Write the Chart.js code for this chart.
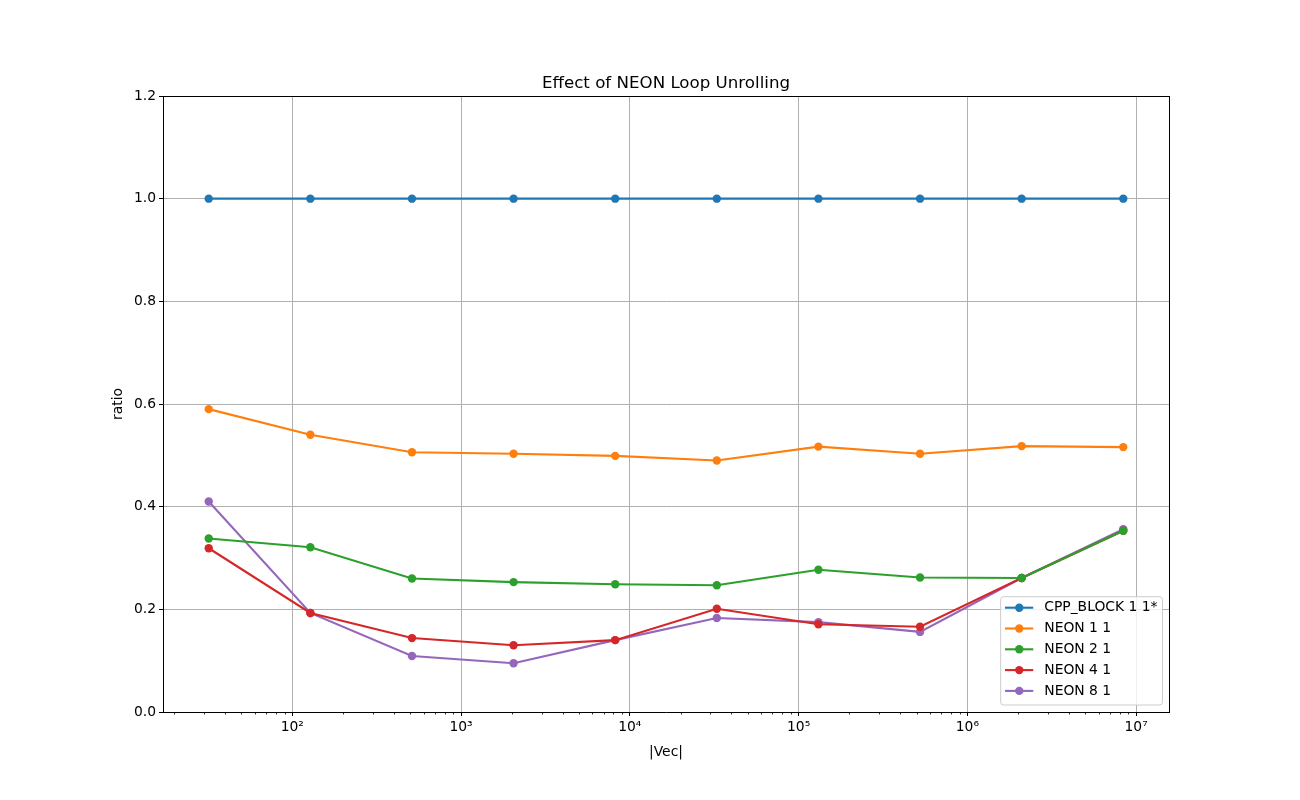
<!DOCTYPE html>
<html>
<head>
<meta charset="utf-8">
<title>Effect of NEON Loop Unrolling</title>
<script src="https://cdn.jsdelivr.net/npm/chart.js@4.4.0/dist/chart.umd.min.js"></script>
<style>
  html, body { margin: 0; padding: 0; background: #fff; }
  #wrap { width: 1300px; height: 800px; }
</style>
</head>
<body>
<div id="wrap"><canvas id="myChart" width="1300" height="800"></canvas></div>
<script>
/* Datos */
const vecSizes = [32, 128, 512, 2048, 8192, 32768, 131072, 524288, 2097152, 8388608];
const seriesNames = ['CPP_BLOCK 1 1*', 'NEON 1 1', 'NEON 2 1', 'NEON 4 1', 'NEON 8 1'];
const cppBlock = [1.0, 1.0, 1.0, 1.0, 1.0, 1.0, 1.0, 1.0, 1.0, 1.0];
const neon1 = [0.590, 0.540, 0.506, 0.503, 0.499, 0.490, 0.517, 0.503, 0.518, 0.516];
const neon2 = [0.338, 0.321, 0.260, 0.253, 0.249, 0.247, 0.277, 0.262, 0.261, 0.353];
const neon4 = [0.319, 0.193, 0.144, 0.130, 0.140, 0.201, 0.171, 0.166, 0.261, 0.353];
const neon8 = [0.410, 0.193, 0.109, 0.095, 0.140, 0.183, 0.175, 0.156, 0.261, 0.356];
const colores = ['#1f77b4', '#ff7f0e', '#2ca02c', '#d62728', '#9467bd'];
const yTicks = [0, 0.2, 0.4, 0.6, 0.8, 1.0, 1.2];
const xMajorTicks = [1e2, 1e3, 1e4, 1e5, 1e6, 1e7];
const titulo = 'Effect of NEON Loop Unrolling';

const FONT = 'DejaVu Sans';
const FS = 13.89;
const allSeries = [cppBlock, neon1, neon2, neon4, neon8];

// limites del eje x como matplotlib (margen 5% en escala log)
const lmin = Math.log10(vecSizes[0]);
const lmax = Math.log10(vecSizes[vecSizes.length - 1]);
const xMin = Math.pow(10, lmin - 0.05 * (lmax - lmin));
const xMax = Math.pow(10, lmax + 0.05 * (lmax - lmin));

// ticks mayores y menores del eje log
var xTickValues = [];
for (var d = 1; d <= 7; d++) {
  for (var k = 1; k <= 9; k++) {
    var v = k * Math.pow(10, d);
    if (v >= xMin && v <= xMax) xTickValues.push(v);
  }
}
function esMayor(v) {
  return xMajorTicks.some(m => Math.abs(m - v) / m < 1e-9);
}
const sup = '⁰¹²³⁴⁵⁶⁷⁸⁹';
function potencia(v) {
  var e = Math.round(Math.log10(v));
  return '10' + String(e).split('').map(c => sup[+c]).join('');
}

const datasets = allSeries.map((serie, i) => ({
  label: seriesNames[i],
  data: serie.map((y, j) => ({ x: vecSizes[j], y: y })),
  borderColor: colores[i],
  backgroundColor: colores[i],
  pointBackgroundColor: colores[i],
  pointBorderWidth: 0,
  pointRadius: 4.2,
  borderWidth: 2.1,
  tension: 0,
  fill: false
}));

// titulo, marco, ticks menores y leyenda dentro del area
const extras = {
  id: 'extras',
  afterDraw(chart) {
    const ctx = chart.ctx;
    const a = chart.chartArea;
    const xs = chart.scales.x;
    ctx.save();
    // titulo centrado sobre el area de datos
    ctx.fillStyle = '#000';
    ctx.font = '16.67px "' + FONT + '"';
    ctx.textAlign = 'center';
    ctx.textBaseline = 'middle';
    ctx.fillText(titulo, (a.left + a.right) / 2, a.top - 12.5);

    // ticks menores
    ctx.strokeStyle = '#000';
    ctx.lineWidth = 0.8;
    xs.ticks.forEach(t => {
      if (esMayor(t.value)) return;
      var px = Math.round(xs.getPixelForValue(t.value)) + 0.5;
      ctx.beginPath();
      ctx.moveTo(px, a.bottom);
      ctx.lineTo(px, a.bottom + 2.5);
      ctx.stroke();
    });
    // bordes superior y derecho
    ctx.lineWidth = 1;
    ctx.beginPath();
    ctx.moveTo(a.left, Math.round(a.top) + 0.5);
    ctx.lineTo(a.right, Math.round(a.top) + 0.5);
    ctx.moveTo(Math.round(a.right) + 0.5, a.top);
    ctx.lineTo(Math.round(a.right) + 0.5, a.bottom);
    ctx.stroke();

    // leyenda
    ctx.font = FS + 'px "' + FONT + '"';
    var textW = Math.max.apply(null, seriesNames.map(n => ctx.measureText(n).width));
    var boxW = 4.3 + 28.3 + 11 + textW + 5;
    var rowH = 20.8;
    var boxH = 108.3;
    var right = a.right - 6.5;
    var bottom = a.bottom - 7;
    var left = right - boxW;
    var top = bottom - boxH;
    ctx.beginPath();
    ctx.roundRect(left, top, boxW, boxH, 3);
    ctx.fillStyle = 'rgba(255,255,255,0.8)';
    ctx.fill();
    ctx.strokeStyle = '#cccccc';
    ctx.lineWidth = 1;
    ctx.stroke();
    seriesNames.forEach((n, i) => {
      var y = top + 11 + i * rowH;
      ctx.strokeStyle = colores[i];
      ctx.lineWidth = 2.1;
      ctx.beginPath();
      ctx.moveTo(left + 4.3, y);
      ctx.lineTo(left + 32.6, y);
      ctx.stroke();
      ctx.fillStyle = colores[i];
      ctx.beginPath();
      ctx.arc(left + 18.6, y, 4.2, 0, Math.PI * 2);
      ctx.fill();
      ctx.fillStyle = '#000';
      ctx.textBaseline = 'middle';
      ctx.textAlign = 'left';
      ctx.fillText(n, left + 43.6, y);
    });
    ctx.restore();
  }
};

const chartCtx = document.getElementById('myChart');

new Chart(chartCtx, {
  type: 'line',
  data: { datasets: datasets },
  plugins: [extras],
  options: {
    responsive: false,
    animation: false,
    layout: { padding: { left: 110, right: 131, top: 96, bottom: 39 } },
    plugins: {
      legend: { display: false },
      tooltip: { enabled: false },
      title: { display: false }
    },
    scales: {
      x: {
        type: 'logarithmic',
        min: xMin,
        max: xMax,
        afterBuildTicks: function (scale) {
          scale.ticks = xTickValues.map(v => ({ value: v }));
        },
        afterFit: function (scale) { scale.height = 49; },
        ticks: {
          autoSkip: false,
          maxRotation: 0,
          padding: 3,
          color: '#000',
          font: { family: FONT, size: FS },
          callback: function (value) {
            return esMayor(value) ? potencia(value) : '';
          }
        },
        grid: {
          drawTicks: true,
          tickLength: 4,
          color: c => (c.tick && esMayor(c.tick.value)) ? '#b0b0b0' : 'rgba(0,0,0,0)',
          tickColor: c => (c.tick && esMayor(c.tick.value)) ? '#000' : 'rgba(0,0,0,0)',
          lineWidth: 1
        },
        border: { display: true, color: '#000', width: 1 },
        title: {
          display: true,
          text: '|Vec|',
          color: '#000',
          font: { family: FONT, size: FS },
          padding: { top: 1, bottom: 0 }
        }
      },
      y: {
        type: 'linear',
        min: 0,
        max: 1.2,
        afterBuildTicks: function (scale) {
          scale.ticks = yTicks.map(v => ({ value: v }));
        },
        afterFit: function (scale) { scale.width = 53; },
        ticks: {
          padding: 3,
          color: '#000',
          font: { family: FONT, size: FS },
          callback: function (value) { return Number(value).toFixed(1); }
        },
        grid: {
          drawTicks: true,
          tickLength: 4,
          color: '#b0b0b0',
          tickColor: '#000',
          lineWidth: 1
        },
        border: { display: true, color: '#000', width: 1 },
        title: {
          display: true,
          text: 'ratio',
          color: '#000',
          font: { family: FONT, size: FS },
          padding: 0
        }
      }
    }
  }
});
</script>
</body>
</html>
